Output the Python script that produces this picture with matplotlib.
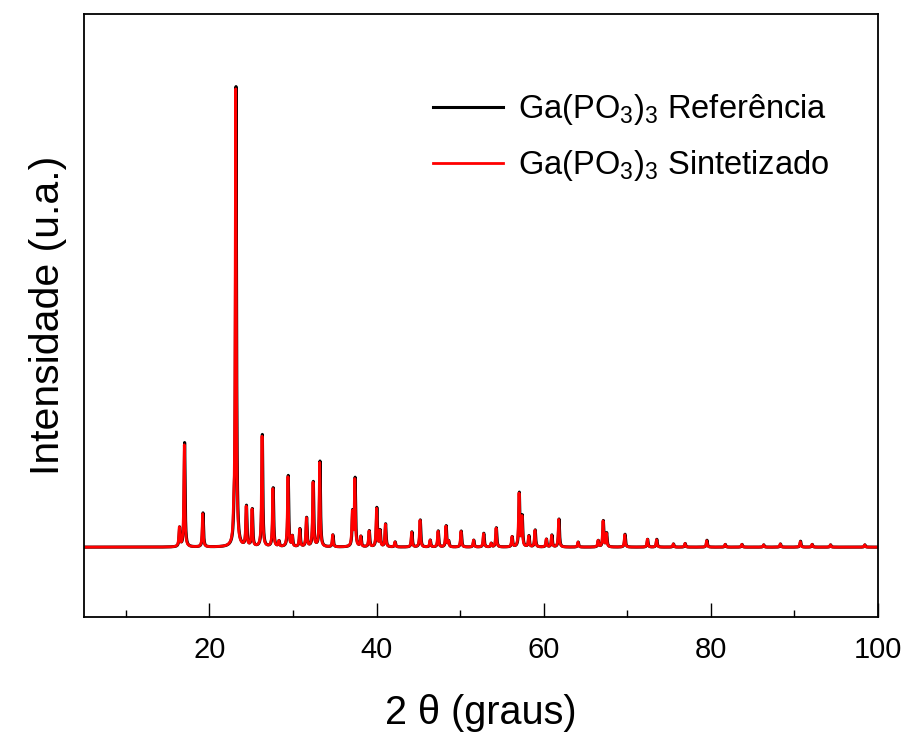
import numpy as np
import matplotlib

matplotlib.use("Agg")
import matplotlib.pyplot as plt
from matplotlib.ticker import MultipleLocator

plt.rcParams["font.family"] = ["Liberation Sans", "DejaVu Sans"]
plt.rcParams["mathtext.fontset"] = "custom"
plt.rcParams["mathtext.rm"] = "Liberation Sans"
plt.rcParams["mathtext.it"] = "Liberation Sans:italic"

# peak positions (2 theta, degrees) and heights above baseline (a.u.)
peak_pos = [16.4, 17.0, 19.2, 22.9, 23.15, 24.4, 25.1, 26.3, 27.6, 28.3,
            29.4, 29.9, 30.8, 31.6, 32.4, 33.2, 34.75, 37.1, 37.4, 38.1,
            39.1, 40.0, 40.4, 41.05, 42.2, 44.2, 45.2, 46.4, 47.35, 48.3,
            48.6, 50.1, 51.6, 52.8, 53.7, 54.3, 56.2, 57.05, 57.4, 58.2,
            58.95, 60.3, 60.95, 61.8, 64.1, 66.5, 67.1, 67.5, 69.7, 72.4,
            73.5, 75.5, 76.9, 79.5, 81.7, 83.7, 86.3, 88.3, 90.7, 92.1,
            94.3, 98.4]
peak_ref = [41, 227, 74, 30, 1000, 87, 81, 244, 128, 12,
            155, 22, 39, 63, 141, 186, 26, 74, 148, 22,
            35, 85, 35, 50, 11, 33, 59, 15, 35, 46,
            12, 35, 15, 30, 8, 42, 22, 117, 66, 24,
            37, 17, 26, 61, 11, 14, 57, 30, 28, 17,
            17, 7, 8, 15, 6, 6, 5, 7, 13, 6,
            5, 5]
peak_syn = [41, 222, 72, 30, 995, 85, 80, 240, 126, 12,
            152, 22, 38, 62, 139, 183, 26, 72, 145, 22,
            34, 83, 34, 49, 11, 32, 58, 15, 34, 45,
            12, 34, 15, 29, 8, 41, 22, 115, 64, 23,
            36, 17, 25, 60, 11, 14, 56, 29, 27, 17,
            16, 7, 8, 14, 6, 6, 5, 7, 12, 6,
            5, 5]
ref_shift = 0.04
legend_labels = [r"Ga(PO$_3$)$_3$ Referência", r"Ga(PO$_3$)$_3$ Sintetizado"]

two_theta = np.arange(5, 100.0001, 0.005)


def pattern(pos, height, shift=0.0, hw=0.07):
    y = np.zeros_like(two_theta)
    for p, h in zip(pos, height):
        y += h / (1 + ((two_theta - p - shift) / hw) ** 2)
    return y


fig = plt.figure(figsize=(9.1, 7.33), dpi=100)
ax = fig.add_axes([0.0923, 0.1583, 0.8725, 0.8227])

ax.plot(two_theta, pattern(peak_pos, peak_ref, ref_shift), color="black",
        lw=2.2, label=legend_labels[0])
ax.plot(two_theta, pattern(peak_pos, peak_syn), color="red",
        lw=2.0, label=legend_labels[1])

ax.set_xlim(5, 100)
ax.set_ylim(-152, 1161)
ax.xaxis.set_major_locator(MultipleLocator(20))
ax.xaxis.set_minor_locator(MultipleLocator(10))
ax.tick_params(axis="x", which="major", direction="in", length=10, width=1,
               labelsize=21, pad=14)
ax.tick_params(axis="x", which="minor", direction="in", length=5, width=1)
ax.tick_params(axis="y", left=False, labelleft=False)
for s in ax.spines.values():
    s.set_linewidth(1.3)

ax.set_xlabel("2 θ (graus)", fontsize=28.5, labelpad=21)
ax.set_ylabel("Intensidade (u.a.)", fontsize=29.5, labelpad=12)

ax.legend(loc="upper left", bbox_to_anchor=(0.423, 0.892), borderaxespad=0,
          frameon=False, fontsize=23.5, handlelength=2.15, handletextpad=0.46,
          labelspacing=0.65)

fig.savefig("out.png", dpi=100)
